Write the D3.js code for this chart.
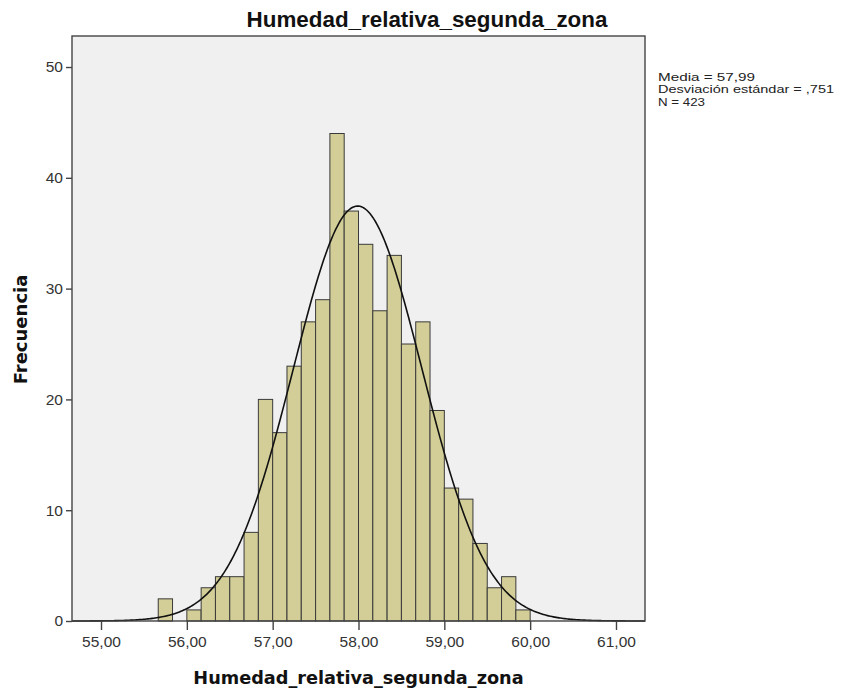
<!DOCTYPE html>
<html>
<head>
<meta charset="utf-8">
<script src="https://cdn.jsdelivr.net/npm/d3@7"></script>
<style>
  html, body { margin: 0; padding: 0; background: #ffffff; }
  svg { display: block; }
</style>
</head>
<body>
<svg id="chart" width="841" height="693"></svg>
<script>
// ---- data ----
const title = "Humedad_relativa_segunda_zona";
const xLabel = "Humedad_relativa_segunda_zona";
const yLabel = "Frecuencia";
const binWidth = 1 / 6;
const binStarts = [55.6667, 55.8333, 56.0000, 56.1667, 56.3333, 56.5000, 56.6667, 56.8333,
                   57.0000, 57.1667, 57.3333, 57.5000, 57.6667, 57.8333, 58.0000, 58.1667,
                   58.3333, 58.5000, 58.6667, 58.8333, 59.0000, 59.1667, 59.3333, 59.5000,
                   59.6667, 59.8333];
const counts = [2, 0, 1, 3, 4, 4, 8, 20,
                17, 23, 27, 29, 44, 37, 34, 28,
                33, 25, 27, 19, 12, 11, 7, 3,
                4, 1];
const xTicks = [55, 56, 57, 58, 59, 60, 61];
const yTicks = [0, 10, 20, 30, 40, 50];
const statMean = 57.99;
const statSD = 0.751;
const statN = 423;
const legendLines = ["Media = 57,99", "Desviación estándar = ,751", "N = 423"];

// ---- layout ----
const pLeft = 72, pRight = 645, pTop = 36, pBottom = 621;
const svg = d3.select("#chart");

const x = d3.scaleLinear().domain([54.662, 61.338]).range([pLeft, pRight]);
const y = d3.scaleLinear().domain([0, 52.8]).range([pBottom, pTop]);

const loc = d3.formatLocale({decimal: ",", thousands: ".", grouping: [3], currency: ["", ""]});
const fmt2 = loc.format(".2f");

// plot background
svg.append("rect")
  .attr("x", pLeft).attr("y", pTop)
  .attr("width", pRight - pLeft).attr("height", pBottom - pTop)
  .attr("fill", "#f0f0f0");

// bars
const bins = binStarts.map((s, i) => ({x0: s, x1: i < binStarts.length - 1 ? binStarts[i + 1] : s + binWidth, n: counts[i]}))
  .filter(d => d.n > 0);
svg.append("g").selectAll("rect").data(bins).join("rect")
  .attr("x", d => x(d.x0))
  .attr("y", d => y(d.n))
  .attr("width", d => x(d.x1) - x(d.x0))
  .attr("height", d => y(0) - y(d.n))
  .attr("fill", "#d3ce97")
  .attr("stroke", "#3a3a3a")
  .attr("stroke-width", 1);

// fitted normal curve
const [d0, d1] = x.domain();
const pts = d3.range(0, 401).map(i => {
  const v = d0 + (d1 - d0) * i / 400;
  const z = (v - statMean) / statSD;
  return [v, statN * binWidth * Math.exp(-0.5 * z * z) / (statSD * Math.sqrt(2 * Math.PI))];
});
svg.append("path")
  .datum(pts)
  .attr("fill", "none")
  .attr("stroke", "#111")
  .attr("stroke-width", 1.6)
  .attr("d", d3.line().x(d => x(d[0])).y(d => y(d[1])));

// frame
svg.append("rect")
  .attr("x", pLeft).attr("y", pTop)
  .attr("width", pRight - pLeft).attr("height", pBottom - pTop)
  .attr("fill", "none")
  .attr("stroke", "#444")
  .attr("stroke-width", 1.4);

// axes
const xAxis = d3.axisBottom(x).tickValues(xTicks).tickFormat(fmt2).tickSize(9).tickSizeOuter(0);
const gx = svg.append("g").attr("transform", `translate(0,${pBottom})`).call(xAxis);
gx.select(".domain").remove();
gx.selectAll("line").attr("stroke", "#444").attr("stroke-width", 1.4);
gx.selectAll("text")
  .attr("fill", "#333")
  .attr("font-family", "'Liberation Sans', Arial, sans-serif")
  .attr("font-size", "15.5px")
  .attr("dy", null)
  .attr("y", 26);

const yAxis = d3.axisLeft(y).tickValues(yTicks).tickFormat(d3.format("d")).tickSize(6).tickSizeOuter(0);
const gy = svg.append("g").attr("transform", `translate(${pLeft},0)`).call(yAxis);
gy.select(".domain").remove();
gy.selectAll("line").attr("stroke", "#444").attr("stroke-width", 1.4);
gy.selectAll("text")
  .attr("fill", "#333")
  .attr("font-family", "'Liberation Sans', Arial, sans-serif")
  .attr("font-size", "15.5px")
  .attr("x", -9);

// title
svg.append("text")
  .attr("x", 427).attr("y", 27)
  .attr("text-anchor", "middle")
  .attr("font-family", "'Liberation Sans', Arial, sans-serif")
  .attr("font-weight", "bold")
  .attr("font-size", "22.4px")
  .attr("fill", "#111")
  .text(title);

// axis titles
svg.append("text")
  .attr("x", (pLeft + pRight) / 2).attr("y", 684)
  .attr("text-anchor", "middle")
  .attr("font-family", "'DejaVu Sans', Verdana, sans-serif")
  .attr("font-weight", "bold")
  .attr("font-size", "17.7px")
  .attr("fill", "#111")
  .text(xLabel);

svg.append("text")
  .attr("transform", `translate(27,${(pTop + pBottom) / 2 + 1}) rotate(-90)`)
  .attr("text-anchor", "middle")
  .attr("font-family", "'DejaVu Sans', Verdana, sans-serif")
  .attr("font-weight", "bold")
  .attr("font-size", "18px")
  .attr("fill", "#111")
  .text(yLabel);

// statistics legend
const legendWidths = [97, 176, 47];
svg.append("g").selectAll("text").data(legendLines).join("text")
  .attr("x", 658)
  .attr("y", (d, i) => 80.7 + i * 12.5)
  .attr("font-family", "'Liberation Sans', Arial, sans-serif")
  .attr("font-size", "11.5px")
  .attr("fill", "#222")
  .attr("textLength", (d, i) => legendWidths[i])
  .attr("lengthAdjust", "spacingAndGlyphs")
  .text(d => d);
</script>
</body>
</html>
